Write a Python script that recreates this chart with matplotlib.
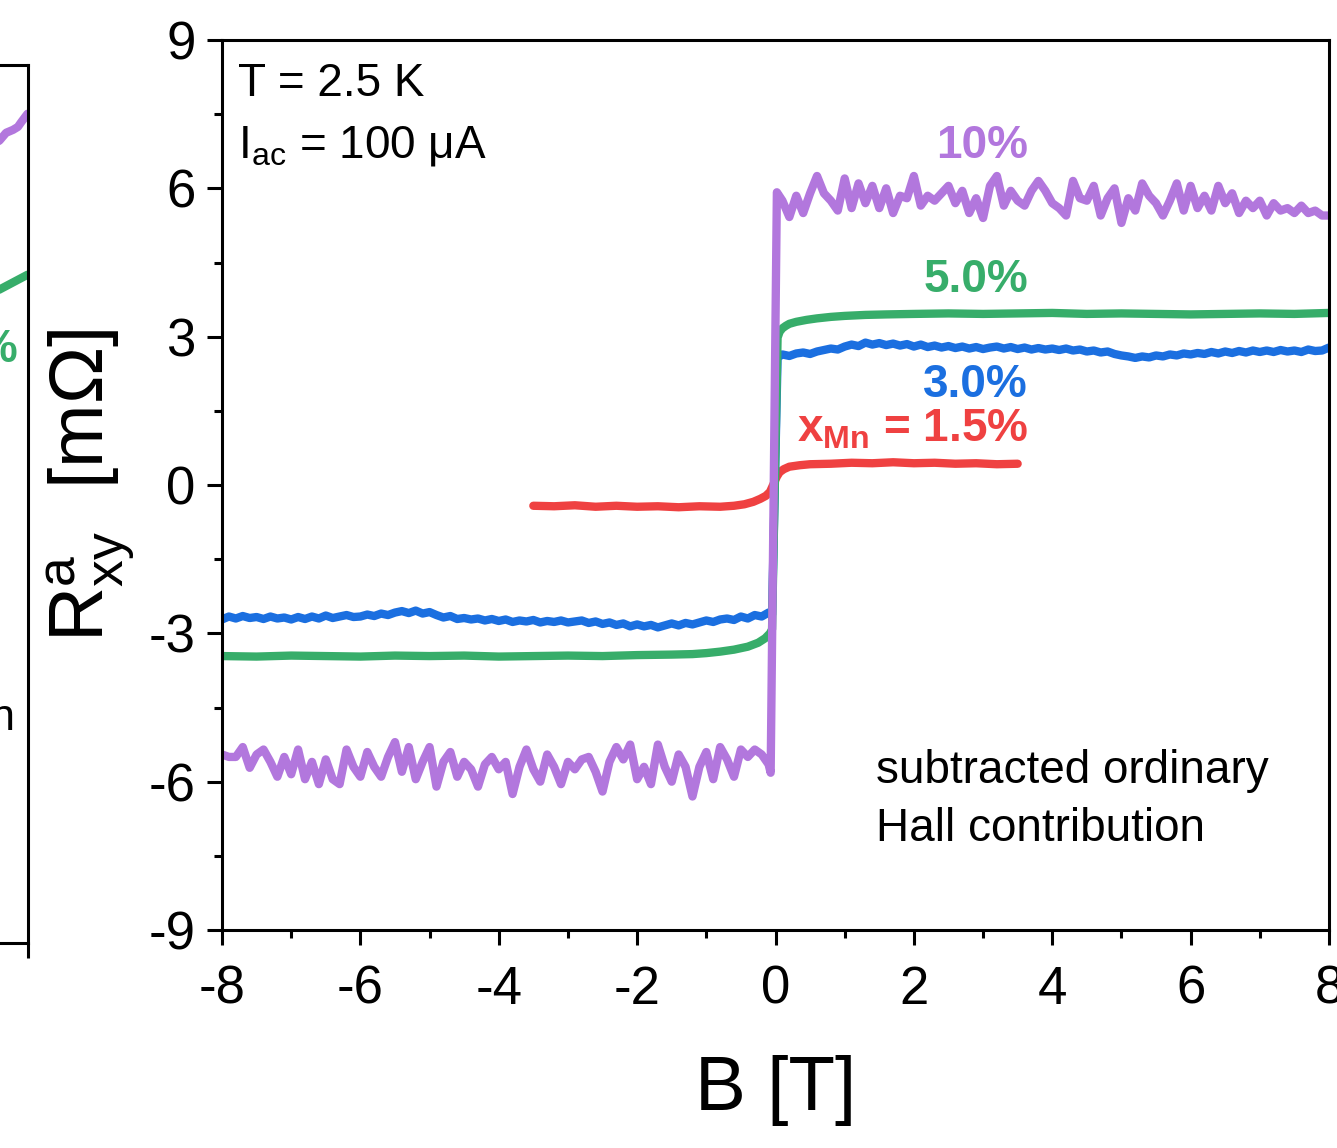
import matplotlib
matplotlib.use('Agg')
import matplotlib.pyplot as plt
from matplotlib.ticker import MultipleLocator
import numpy as np

plt.rcParams['font.family'] = ['Liberation Sans', 'DejaVu Sans']
plt.rcParams['mathtext.fontset'] = 'custom'
plt.rcParams['mathtext.rm'] = 'Liberation Sans'
plt.rcParams['mathtext.it'] = 'Liberation Sans:italic'
plt.rcParams['mathtext.bf'] = 'Liberation Sans:bold'
plt.rcParams['axes.unicode_minus'] = False

c_pur = '#b277dd'
c_grn = '#37ad6a'
c_blu = '#1b6fe0'
c_red = '#ef4141'

# 10% sample: sweep -8 -> -0.1 T and 0.1 -> 8 T, 0.1 T steps, plus the switching points
B_pur_neg = np.linspace(-8.0, -0.1, 80)
R_pur_neg = [-5.45, -5.50, -5.50, -5.30, -5.72, -5.45, -5.35, -5.60, -5.90, -5.50,
             -5.85, -5.35, -5.95, -5.60, -6.05, -5.55, -5.95, -6.05, -5.35, -5.70,
             -5.90, -5.40, -5.70, -5.90, -5.50, -5.20, -5.80, -5.30, -5.95, -5.60,
             -5.30, -6.10, -5.60, -5.40, -5.90, -5.60, -5.75, -6.10, -5.65, -5.50,
             -5.75, -5.60, -6.25, -5.70, -5.35, -5.75, -6.00, -5.45, -5.70, -6.05,
             -5.60, -5.75, -5.55, -5.50, -5.80, -6.20, -5.60, -5.30, -5.55, -5.25,
             -5.95, -5.70, -6.05, -5.25, -5.70, -6.00, -5.45, -5.70, -6.30, -5.70,
             -5.40, -5.95, -5.30, -5.55, -5.90, -5.35, -5.50, -5.35, -5.45, -5.65]
B_pur_sw = [-0.07, 0.02]
R_pur_sw = [-5.82, 5.92]
B_pur_pos = np.linspace(0.1, 8.0, 80)
R_pur_pos = [5.75, 5.42, 5.85, 5.50, 5.90, 6.25, 5.90, 5.75, 5.55, 6.20,
             5.60, 6.10, 5.70, 6.05, 5.60, 6.00, 5.50, 5.85, 5.80, 6.25,
             5.65, 5.85, 5.75, 5.90, 6.05, 5.70, 5.95, 5.50, 5.80, 5.40,
             6.05, 6.25, 5.65, 5.95, 5.75, 5.65, 5.95, 6.15, 5.95, 5.70,
             5.60, 5.45, 6.15, 5.80, 5.75, 6.05, 5.45, 5.80, 6.00, 5.30,
             5.80, 5.55, 6.10, 5.85, 5.70, 5.45, 5.75, 6.10, 5.55, 6.05,
             5.60, 5.85, 5.55, 6.05, 5.70, 5.90, 5.50, 5.75, 5.60, 5.75,
             5.45, 5.70, 5.55, 5.60, 5.50, 5.65, 5.50, 5.55, 5.45, 5.45]

# 3.0% sample
B_blu_neg = np.linspace(-8.0, -0.1, 80)
R_blu_neg = [-2.72, -2.66, -2.70, -2.65, -2.69, -2.67, -2.71, -2.66, -2.70, -2.68,
             -2.72, -2.67, -2.71, -2.66, -2.70, -2.64, -2.69, -2.66, -2.63, -2.67,
             -2.66, -2.62, -2.65, -2.60, -2.63, -2.58, -2.55, -2.59, -2.54, -2.60,
             -2.57, -2.63, -2.68, -2.65, -2.71, -2.69, -2.72, -2.70, -2.74, -2.71,
             -2.75, -2.72, -2.77, -2.74, -2.76, -2.73, -2.78, -2.75, -2.77, -2.74,
             -2.78, -2.76, -2.74, -2.79, -2.76, -2.81, -2.78, -2.83, -2.80, -2.86,
             -2.82, -2.86, -2.83, -2.88, -2.84, -2.80, -2.84, -2.79, -2.82, -2.78,
             -2.74, -2.77, -2.72, -2.70, -2.73, -2.66, -2.70, -2.63, -2.66, -2.58]
B_blu_sw = [-0.05, 0.03]
R_blu_sw = [-2.62, 2.58]
B_blu_pos = np.linspace(0.1, 8.0, 80)
R_blu_pos = [2.64, 2.61, 2.66, 2.68, 2.65, 2.70, 2.73, 2.76, 2.74, 2.80,
             2.84, 2.81, 2.88, 2.84, 2.87, 2.83, 2.86, 2.82, 2.85, 2.80,
             2.84, 2.79, 2.82, 2.78, 2.81, 2.77, 2.80, 2.76, 2.79, 2.75,
             2.78, 2.80, 2.76, 2.79, 2.75, 2.78, 2.74, 2.77, 2.74, 2.76,
             2.73, 2.76, 2.72, 2.74, 2.70, 2.72, 2.68, 2.70, 2.65, 2.62,
             2.60, 2.57, 2.60, 2.58, 2.62, 2.60, 2.64, 2.62, 2.66, 2.64,
             2.67, 2.65, 2.69, 2.66, 2.70, 2.67, 2.71, 2.68, 2.72, 2.69,
             2.72, 2.69, 2.73, 2.70, 2.72, 2.69, 2.74, 2.71, 2.72, 2.78]

# 5.0% sample
B_grn = [-8.0, -7.5, -7.0, -6.5, -6.0, -5.5, -5.0, -4.5, -4.0, -3.5, -3.0, -2.5,
         -2.0, -1.5, -1.2, -1.0, -0.8, -0.6, -0.4, -0.25, -0.15, -0.08, -0.05,
         0.03, 0.06, 0.1, 0.15, 0.2, 0.3, 0.45, 0.6, 0.8, 1.0, 1.3, 1.6, 2.0,
         2.5, 3.0, 3.5, 4.0, 4.5, 5.0, 5.5, 6.0, 6.5, 7.0, 7.5, 8.0]
R_grn = [-3.46, -3.47, -3.45, -3.46, -3.47, -3.45, -3.46, -3.45, -3.47, -3.46, -3.45, -3.46,
         -3.44, -3.43, -3.42, -3.40, -3.37, -3.33, -3.27, -3.19, -3.10, -3.00, -2.92,
         2.98, 3.10, 3.17, 3.22, 3.26, 3.30, 3.34, 3.37, 3.40, 3.42, 3.44, 3.45, 3.46,
         3.47, 3.46, 3.47, 3.48, 3.46, 3.47, 3.46, 3.45, 3.46, 3.47, 3.46, 3.48]

# 1.5% sample
B_red = [-3.5, -3.2, -2.9, -2.6, -2.3, -2.0, -1.7, -1.4, -1.1, -0.8, -0.6, -0.45,
         -0.32, -0.22, -0.14, -0.08,
         0.02, 0.06, 0.12, 0.2, 0.35, 0.5, 0.8, 1.1, 1.4, 1.7, 2.0, 2.3, 2.6,
         2.9, 3.2, 3.5]
R_red = [-0.42, -0.43, -0.41, -0.44, -0.42, -0.44, -0.43, -0.45, -0.43, -0.44, -0.42, -0.39,
         -0.34, -0.28, -0.22, -0.14,
         0.17, 0.26, 0.32, 0.37, 0.40, 0.42, 0.43, 0.45, 0.44, 0.46, 0.44, 0.45, 0.43,
         0.44, 0.42, 0.43]

# edge of the neighbouring panel
B_side_pur = [7.45, 7.60, 7.69, 7.79, 7.86, 7.91, 8.0]
R_side_pur = [7.25, 7.46, 7.61, 7.67, 7.73, 7.83, 8.0]
B_side_grn = [7.40, 8.0]
R_side_grn = [4.25, 4.70]

B_pur = np.concatenate([B_pur_neg, B_pur_sw, B_pur_pos])
R_pur = np.concatenate([R_pur_neg, R_pur_sw, R_pur_pos])
B_blu = np.concatenate([B_blu_neg, B_blu_sw, B_blu_pos])
R_blu = np.concatenate([R_blu_neg, R_blu_sw, R_blu_pos])

fig = plt.figure(figsize=(13.37, 11.48), dpi=100)

tick_kw = dict(direction='out', width=2.2, top=False, right=False)
lw = 6
line_kw = dict(lw=lw, solid_joinstyle='round', solid_capstyle='round')

# neighbouring panel, mostly outside the canvas
ax0 = fig.add_axes([-0.8074, 0.1786, 0.828, 0.7648])
ax0.plot(B_side_pur, R_side_pur, color=c_pur, **line_kw)
ax0.plot(B_side_grn, R_side_grn, color=c_grn, **line_kw)
ax0.set_xlim(-8, 8)
ax0.set_ylim(-9, 9)
ax0.xaxis.set_major_locator(MultipleLocator(2))
ax0.tick_params(which='major', length=11, labelbottom=False, labelleft=False, **tick_kw)
for s in ax0.spines.values():
    s.set_linewidth(2.2)
fig.text(18 / 1337, 1 - 362 / 1148, '5.0%', color=c_grn, fontsize=33,
         fontweight='bold', ha='right', va='baseline')
fig.text(15 / 1337, 1 - 730 / 1148, 'contribution', fontsize=32,
         ha='right', va='baseline')

# main panel
ax = fig.add_axes([222 / 1337, 1 - 930 / 1148, 1107 / 1337, 890 / 1148])
ax.plot(B_red, R_red, color=c_red, **line_kw)
ax.plot(B_blu, R_blu, color=c_blu, **line_kw)
ax.plot(B_grn, R_grn, color=c_grn, **line_kw)
ax.plot(B_pur, R_pur, color=c_pur, **line_kw)

ax.set_xlim(-8, 8)
ax.set_ylim(-9, 9)
ax.set_xticks(np.arange(-8, 9, 2))
ax.set_yticks(np.arange(-9, 10, 3))
ax.xaxis.set_minor_locator(MultipleLocator(1))
ax.yaxis.set_minor_locator(MultipleLocator(1.5))
ax.tick_params(which='major', length=11, labelsize=38, pad=8, **tick_kw)
ax.tick_params(axis='x', which='major', pad=14)
ax.tick_params(which='minor', length=6, **tick_kw)
for s in ax.spines.values():
    s.set_linewidth(2.2)

ax.set_xlabel('B [T]', fontsize=55)
ax.xaxis.set_label_coords(0.5, -0.14)
ax.set_ylabel(r'$\mathregular{R^{a}_{xy}}$  [m$\mathregular{\Omega}$]', fontsize=55)
ax.yaxis.set_label_coords(-0.077, 0.5)

ax.text(-7.77, 7.87, 'T = 2.5 K', fontsize=33, va='baseline')
ax.text(-7.77, 6.62, r'$\mathregular{I_{ac}}$ = 100 μA', fontsize=33, va='baseline')
ax.text(1.45, -6.03, 'subtracted ordinary', fontsize=33, va='baseline')
ax.text(1.45, -7.19, 'Hall contribution', fontsize=33, va='baseline')

lab_kw = dict(fontsize=33, fontweight='bold', ha='right', va='baseline')
ax.text(3.65, 6.62, '10%', color=c_pur, **lab_kw)
ax.text(3.65, 3.91, '5.0%', color=c_grn, **lab_kw)
ax.text(3.65, 1.78, '3.0%', color=c_blu, **lab_kw)
ax.text(3.65, 0.87, r'$\mathbf{x_{Mn}}$ = 1.5%', color=c_red, **lab_kw)

fig.savefig('out.png', dpi=100)
